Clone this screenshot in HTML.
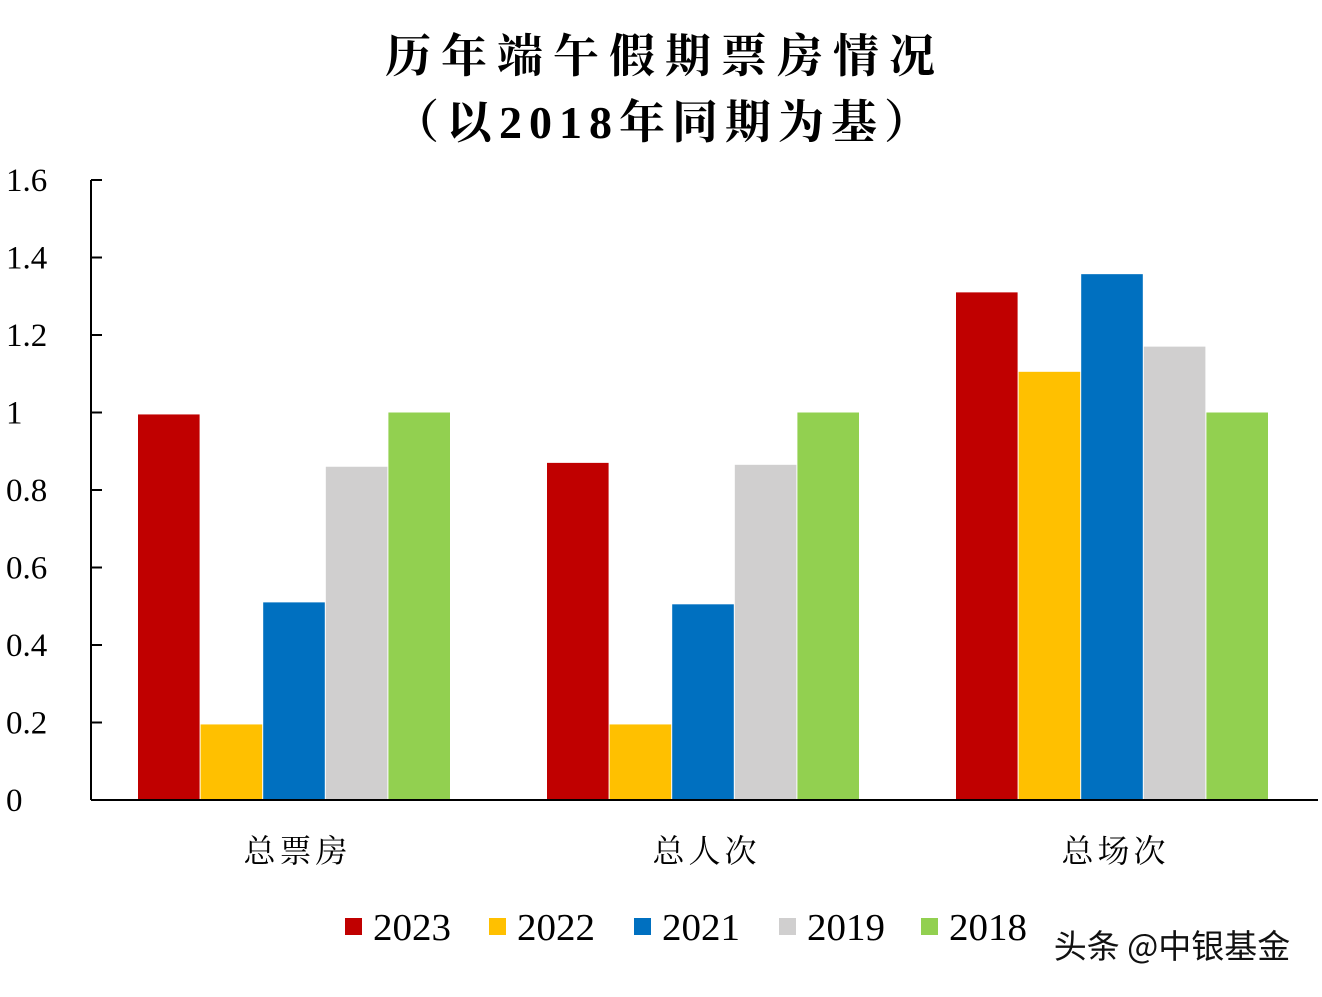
<!DOCTYPE html>
<html><head><meta charset="utf-8"><style>
body{margin:0;background:#fff;}
svg text{font-family:"Liberation Serif","Noto Serif CJK SC",serif;}
</style></head><body>
<svg width="1322" height="992" viewBox="0 0 1322 992">
<text x="665" y="72" text-anchor="middle" font-size="46" font-weight="bold" letter-spacing="10">历年端午假期票房情况</text>
<text x="665" y="138" text-anchor="middle" font-size="46" font-weight="bold" letter-spacing="7">（以2018年同期为基）</text>
<g id="plot"></g>
<text x="1172" y="958" text-anchor="middle" font-size="33" fill="#111" style="font-family:'Noto Sans CJK SC',sans-serif">头条 @中银基金</text>
</svg>
<script>
const categories=["总票房","总人次","总场次"];
const seriesNames=["2023","2022","2021","2019","2018"];
const colors=["#c00000","#ffc000","#0070c0","#d0cfcf","#92d050"];
const v2023=[0.995,0.87,1.31];
const v2022=[0.195,0.195,1.105];
const v2021=[0.51,0.505,1.357];
const v2019=[0.86,0.865,1.17];
const v2018=[1.0,1.0,1.0];
const yTicks=[0,0.2,0.4,0.6,0.8,1,1.2,1.4,1.6];
const yTickLabels=["0","0.2","0.4","0.6","0.8","1","1.2","1.4","1.6"];
const series=[v2023,v2022,v2021,v2019,v2018];
const NS="http://www.w3.org/2000/svg";
const g=document.getElementById('plot');
const x0=91,x1=1318,yBase=800,yTop=180,yMax=1.6;
const y=v=>yBase-(v/yMax)*(yBase-yTop);
const catW=(x1-x0)/categories.length;
const barW=62.6,pad=(catW-barW*5)/2-1;
function el(t,a){const e=document.createElementNS(NS,t);for(const k in a)e.setAttribute(k,a[k]);g.appendChild(e);return e;}
series.forEach((s,si)=>{s.forEach((v,ci)=>{
 const r=el('rect',{x:x0+ci*catW+pad+si*barW,y:y(v),width:barW-1,height:yBase-y(v),fill:colors[si]});
 
 
});});
const ax=el('line',{x1:x0,y1:yTop,x2:x0,y2:yBase,stroke:'#000','stroke-width':2});


const bx=el('line',{x1:x0,y1:yBase,x2:x1,y2:yBase,stroke:'#000','stroke-width':2});


yTicks.forEach((t,i)=>{
 const tk=el('line',{x1:x0,y1:y(t),x2:x0+11,y2:y(t),stroke:'#000','stroke-width':2});
 
 
 const tx=el('text',{x:6,y:y(t)+11,'font-size':33});
 tx.textContent=yTickLabels[i];
 
 
});
categories.forEach((c,ci)=>{
 const tx=el('text',{x:x0+ci*catW+catW/2+2,y:862,'font-size':32,'text-anchor':'middle','letter-spacing':4});
 tx.textContent=c;
 
 
});
const legX=[345,489,634,779,921];
seriesNames.forEach((n,i)=>{
 const r=el('rect',{x:legX[i],y:918,width:17,height:17,fill:colors[i]});
 
 
 const tx=el('text',{x:legX[i]+28,y:940,'font-size':38,textLength:78,lengthAdjust:'spacingAndGlyphs'});
 tx.textContent=n;
 
 
});
</script>
</body></html>
